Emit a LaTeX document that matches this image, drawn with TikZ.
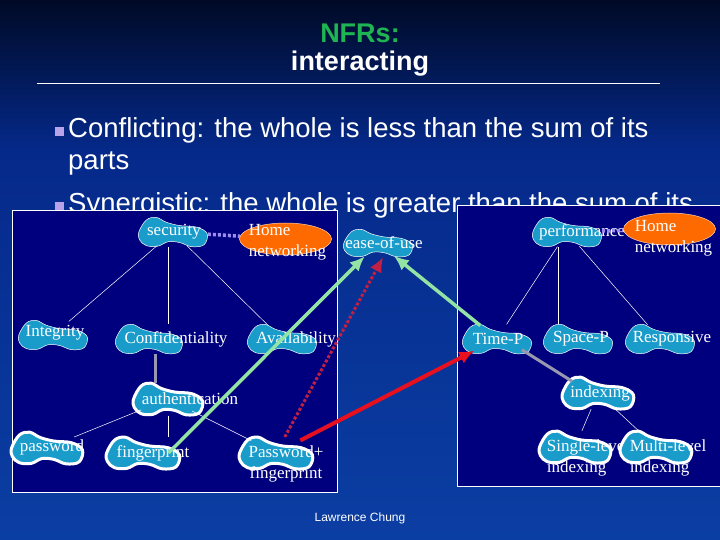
\documentclass[tikz,border=0pt]{standalone}
\usepackage{fontspec}
\setmainfont{Liberation Serif}
\setsansfont{Liberation Sans}
\usepackage{xcolor}
\usepackage{tikz}
\usetikzlibrary{shapes.geometric, arrows.meta, positioning, calc}
\definecolor{NF_TOP}{HTML}{000A26}
\definecolor{NF_MID}{HTML}{05298A}
\definecolor{NF_BOT}{HTML}{0B3EA3}
\definecolor{NF_BOX}{HTML}{00007E}
\definecolor{NF_BLOB}{HTML}{1A9CCB}
\definecolor{NF_ORANGE}{HTML}{FF6A00}
\definecolor{NF_GREEN}{HTML}{1FB552}
\definecolor{NF_LAV}{HTML}{B9A3E8}
\definecolor{NF_DOT}{HTML}{9C8CF0}
\definecolor{NF_GRAY}{HTML}{9898B0}
\definecolor{NF_MINT}{HTML}{92E3A4}
\definecolor{NF_RED}{HTML}{E8101E}
\definecolor{NF_CRIMSON}{HTML}{C21F45}

% softgoal blob: ellipse anchors, bean-shaped outline
\makeatletter
\newdimen\nfcx \newdimen\nfcy \newdimen\nfrx \newdimen\nfry
\def\nfpt#1#2{\pgfqpoint{\dimexpr\nfcx+#1\nfrx\relax}{\dimexpr\nfcy+#2\nfry\relax}}
\pgfdeclareshape{blobby}{
  \inheritsavedanchors[from=ellipse]
  \inheritanchor[from=ellipse]{center}
  \inheritanchor[from=ellipse]{north}
  \inheritanchor[from=ellipse]{south}
  \inheritanchor[from=ellipse]{east}
  \inheritanchor[from=ellipse]{west}
  \inheritanchor[from=ellipse]{north east}
  \inheritanchor[from=ellipse]{north west}
  \inheritanchor[from=ellipse]{south east}
  \inheritanchor[from=ellipse]{south west}
  \inheritanchorborder[from=ellipse]
  \backgroundpath{%
    \centerpoint \nfcx=\pgf@x \nfcy=\pgf@y
    \radius \nfrx=\pgf@x \nfry=\pgf@y
    \pgfsetplottension{0.6}%
    \pgfplothandlerclosedcurve
    \pgfplotstreamstart
    \pgfplotstreampoint{\nfpt{-0.97}{0}}
    \pgfplotstreampoint{\nfpt{-0.76}{0.78}}
    \pgfplotstreampoint{\nfpt{-0.48}{0.96}}
    \pgfplotstreampoint{\nfpt{-0.19}{0.64}}
    \pgfplotstreampoint{\nfpt{0.19}{0.42}}
    \pgfplotstreampoint{\nfpt{0.67}{0.32}}
    \pgfplotstreampoint{\nfpt{0.97}{-0.11}}
    \pgfplotstreampoint{\nfpt{0.88}{-0.84}}
    \pgfplotstreampoint{\nfpt{0.52}{-0.96}}
    \pgfplotstreampoint{\nfpt{0.19}{-0.69}}
    \pgfplotstreampoint{\nfpt{-0.14}{-0.64}}
    \pgfplotstreampoint{\nfpt{-0.43}{-0.93}}
    \pgfplotstreampoint{\nfpt{-0.76}{-0.89}}
    \pgfplotstreampoint{\nfpt{-0.95}{-0.51}}
    \pgfplotstreamend
  }
}
\makeatother

\tikzset{
  blob/.style={
    shape=blobby, minimum width=70pt, minimum height=30pt, inner sep=0pt,
    fill=NF_BLOB, draw=white, line width=0.5pt},
  thickblob/.style={blob, line width=3pt},
  lbl/.style={
    text=white, inner sep=0pt, align=left,
    font=\fontsize{17}{21}\selectfont},
  homebox/.style={
    ellipse, minimum width=92pt, minimum height=32pt,
    fill=NF_ORANGE, draw=white!70!NF_ORANGE, line width=0.5pt},
  panel/.style={draw=white, fill=NF_BOX, line width=0.8pt},
  headtxt/.style={font=\sffamily\bfseries\fontsize{27}{30}\selectfont},
  bullettxt/.style={
    anchor=west, inner sep=0pt, text=white,
    font=\sffamily\fontsize{27.5}{33}\selectfont},
  bulletsq/.style={fill=NF_LAV, minimum size=9pt, inner sep=0pt},
  tree/.style={white, line width=0.5pt},
  isa/.style={NF_GRAY, line width=3pt},
  tie/.style={NF_DOT, line width=3.5pt, dash pattern=on 3pt off 2pt},
  help/.style={-{Latex[length=15pt,width=13pt]}, NF_MINT, line width=3.5pt},
  hurt/.style={-{Latex[length=15pt,width=13pt]}, NF_RED, line width=4pt},
  hurtsome/.style={-{Latex[length=15pt,width=13pt]}, NF_CRIMSON,
    line width=3pt, dash pattern=on 3pt off 2pt},
}
\begin{document}
\begin{tikzpicture}[x=1pt, y=1pt, node distance=20pt and 20pt]
  \useasboundingbox (0,0) rectangle (720,-540);

  % slide background
  \shade[top color=NF_TOP, bottom color=NF_MID] (0,0) rectangle (720,-150);
  \shade[top color=NF_MID, bottom color=NF_BOT] (0,-150) rectangle (720,-540);

  % heading
  \node[headtxt, text=NF_GREEN] (ttl) at (360,-33) {NFRs:};
  \node[headtxt, text=white] (sub) at (360,-64) {interacting};
  \draw[white, line width=1pt] (37,-84) -- (660,-84);

  \node[bulletsq] (b1) at (59.5,-132) {};
  \node[bullettxt] (t1) at (68,-130)
    {Conflicting: the whole is less than the sum of its};
  \node[bullettxt] (t1b) at (68,-163) {parts};
  \node[bulletsq] (b2) at (59.5,-207) {};
  \node[bullettxt] (t2) at (68,-205)
    {Synergistic: the whole is greater than the sum of its};

  % the two softgoal panels
  \draw[panel] (12,-210) rectangle (337,-492);
  \draw[panel] (457,-205) rectangle (730,-486);

  % security side
  \node[blob, label={[lbl,xshift=1pt]center:security}] (sec) at (173,-232) {};
  \node[homebox, right=31pt of sec, yshift=-7pt,
    label={[lbl,xshift=2pt,yshift=-3pt]center:Home\\networking}] (hn1) {};
  \node[blob, label={[lbl,xshift=2pt,yshift=2pt]center:Integrity}] (integ) at (53,-335) {};
  \node[blob, minimum width=68pt, label={[lbl,xshift=27pt]center:Confidentiality}] (conf) at (149,-339) {};
  \node[blob, label={[lbl,xshift=14pt]center:Availability}] (avail) at (282,-339) {};
  \node[thickblob, minimum width=68pt, label={[lbl,xshift=22pt]center:authentication}] (auth) at (168,-399) {};
  \node[thickblob, label={[lbl,xshift=5pt,yshift=1pt]center:password}] (pwd) at (47,-448) {};
  \node[thickblob, minimum width=72pt, label={[lbl,xshift=10pt]center:fingerprint}] (fp) at (143,-453) {};
  \node[thickblob, minimum width=72pt,
    label={[lbl,align=center,xshift=10pt,yshift=-11pt]center:Password+\\fingerprint}] (pfp) at (276,-453) {};

  % between the panels
  \node[blob, minimum height=28pt, label={[lbl,xshift=6pt]center:ease-of-use}] (ease) at (378,-243) {};

  % performance side
  \node[blob, label={[lbl,xshift=15pt]center:performance}] (perf) at (567,-232) {};
  \node[homebox, right=21pt of perf, yshift=3pt,
    label={[lbl,xshift=4pt,yshift=-9pt]center:Home\\networking}] (hn2) {};
  \node[blob, label={[lbl,xshift=1pt]center:Time-P}] (timep) at (497,-339) {};
  \node[blob, label={[lbl,xshift=3pt]center:Space-P}] (spacep) at (578,-339) {};
  \node[blob, label={[lbl,xshift=12pt]center:Responsive}] (resp) at (660,-339) {};
  \node[thickblob, label={[lbl,xshift=2pt]center:indexing}] (idx) at (598,-393) {};
  \node[thickblob, label={[lbl,xshift=13pt,yshift=-11pt]center:Single-level\\indexing}] (single) at (575,-447) {};
  \node[thickblob, label={[lbl,xshift=12pt,yshift=-11pt]center:Multi-level\\indexing}] (multi) at (656,-447) {};

  \node[text=white, font=\sffamily\fontsize{12}{14}\selectfont] (foot) at (360,-518) {Lawrence Chung};

  % decompositions
  \draw[tree] (sec) -- (integ);
  \draw[tree] ([xshift=-5pt]sec.south) -- ([xshift=-5pt]sec.south |- conf.north);
  \draw[tree] (sec) -- (avail);
  \draw[tree] (auth) -- (pwd);
  \draw[tree] (auth.south) -- (auth.south |- fp.north);
  \draw[tree] (auth) -- (pfp);
  \draw[tree] (perf) -- (timep);
  \draw[tree] ([xshift=-9pt]perf.south) -- ([xshift=-9pt]perf.south |- spacep.north);
  \draw[tree] (perf) -- (resp);
  \draw[tree] (idx) -- (single);
  \draw[tree] (idx) -- (multi);

  \draw[isa] ([xshift=6pt]conf.south) -- ([xshift=6pt]conf.south |- auth.north);
  \draw[isa] (timep.south east) -- (idx.north west);

  \draw[tie] (sec) -- (hn1);
  \draw[tie] (perf) -- (hn2);

  % interactions
  \draw[help] ([xshift=-12pt]fp.east) -- (ease);
  \draw[hurtsome] (pfp) -- (ease.-70);
  \draw[hurt] (pfp) -- (timep);
  \draw[help] (timep) -- (ease);

\end{tikzpicture}
\end{document}
